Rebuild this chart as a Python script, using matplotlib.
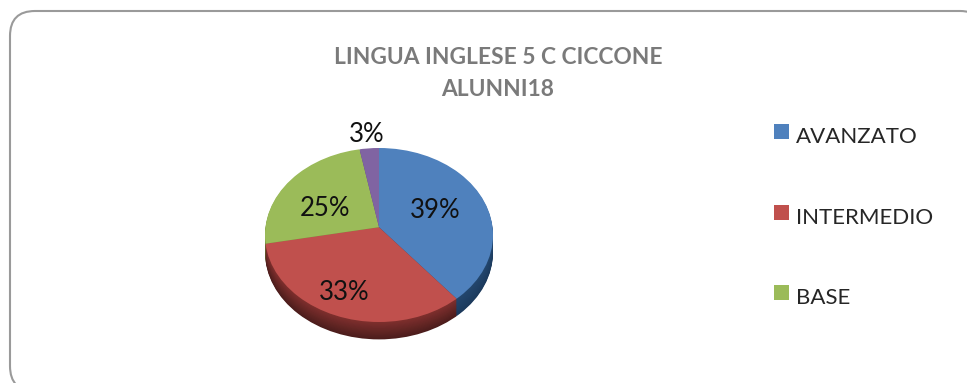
import matplotlib.pyplot as plt
from matplotlib.patches import FancyBboxPatch, Rectangle, Circle

W = 967
H = 383

title_lines = ["LINGUA INGLESE 5 C CICCONE", "ALUNNI18"]
categories = ["AVANZATO", "INTERMEDIO", "BASE"]
values = [39, 33, 25, 3]
pct_labels = ["39%", "33%", "25%", "3%"]
colors = ["#4f81bd", "#c0504d", "#9bbb59", "#8064a2"]
side_start = ["#23476f", "#80302e", "#6d8a3a", "#5b4579"]
side_end = ["#1c3a5c", "#4c1d1c", "#55702c", "#4a3864"]

plt.rcParams["font.family"] = ["Lato", "DejaVu Sans"]


def mix(c1, c2, t):
    a = [int(c1[i:i+2], 16) for i in (1, 3, 5)]
    b = [int(c2[i:i+2], 16) for i in (1, 3, 5)]
    return [(a[i] + (b[i]-a[i])*t)/255 for i in range(3)]


def clipped_pie(ax, cols, drop):
    # apex sits above the middle of the ellipse, as in the tilted 3d pie
    wedges, _ = ax.pie(values, colors=cols, startangle=90, counterclock=False,
                       radius=1.4, center=(0, apex_up-drop))
    clip = Circle((0, -drop), 1, transform=ax.transData, fc="none", ec="none")
    ax.add_patch(clip)
    for w in wedges:
        w.set_clip_on(True)
        w.set_clip_path(clip)


fig = plt.figure(figsize=(W/100, H/100), dpi=100)
bg = fig.add_axes([0, 0, 1, 1])
bg.set_xlim(0, W)
bg.set_ylim(H, 0)
bg.axis("off")

# rounded frame, right and bottom sides run off the picture
frame = FancyBboxPatch((35, 36), 925, 330, boxstyle="round,pad=25,rounding_size=25",
                       fc="white", ec="#9a9a9a", lw=1.5)
bg.add_patch(frame)

# pie axes, squashed so the circle turns into an ellipse
cx, cy, rx, ry = 379, 235, 114, 87
apex_up = 0.09
depth = 0.2
layers = 20
ax = fig.add_axes([(cx-1.2*rx)/W, 1-(cy+1.4*ry)/H, 2.4*rx/W, 2.6*ry/H])
for n in range(layers, 0, -1):
    shade = [mix(side_start[i], side_end[i], n/layers) for i in range(4)]
    clipped_pie(ax, shade, depth*n/layers)
clipped_pie(ax, colors, 0)
ax.set_aspect("auto")
ax.set_xlim(-1.2, 1.2)
ax.set_ylim(-1.4, 1.2)
ax.axis("off")

# texts on their own axes so they stay above the pie
top = fig.add_axes([0, 0, 1, 1])
top.set_xlim(0, W)
top.set_ylim(H, 0)
top.axis("off")

top.text(498, 57, title_lines[0], ha="center", va="center", fontsize=16.4,
         fontweight="bold", color="#7a7a7a")
top.text(498, 89, title_lines[1], ha="center", va="center", fontsize=16.4,
         fontweight="bold", color="#7a7a7a")

label_pos = [(435, 210), (344, 293), (325, 209), (367, 135)]
for i in range(4):
    top.text(label_pos[i][0], label_pos[i][1], pct_labels[i], ha="center", va="center",
             fontsize=18.5, color="#111111")

legend_y = [131.5, 212.5, 292.5]
for i in range(3):
    top.add_patch(Rectangle((774, legend_y[i]-7.5), 15, 15, fc=colors[i], ec="none"))
    top.text(796, legend_y[i]+5.5, categories[i], ha="left", va="center", fontsize=16,
             color="#262626")

fig.savefig("out.png", dpi=100)
